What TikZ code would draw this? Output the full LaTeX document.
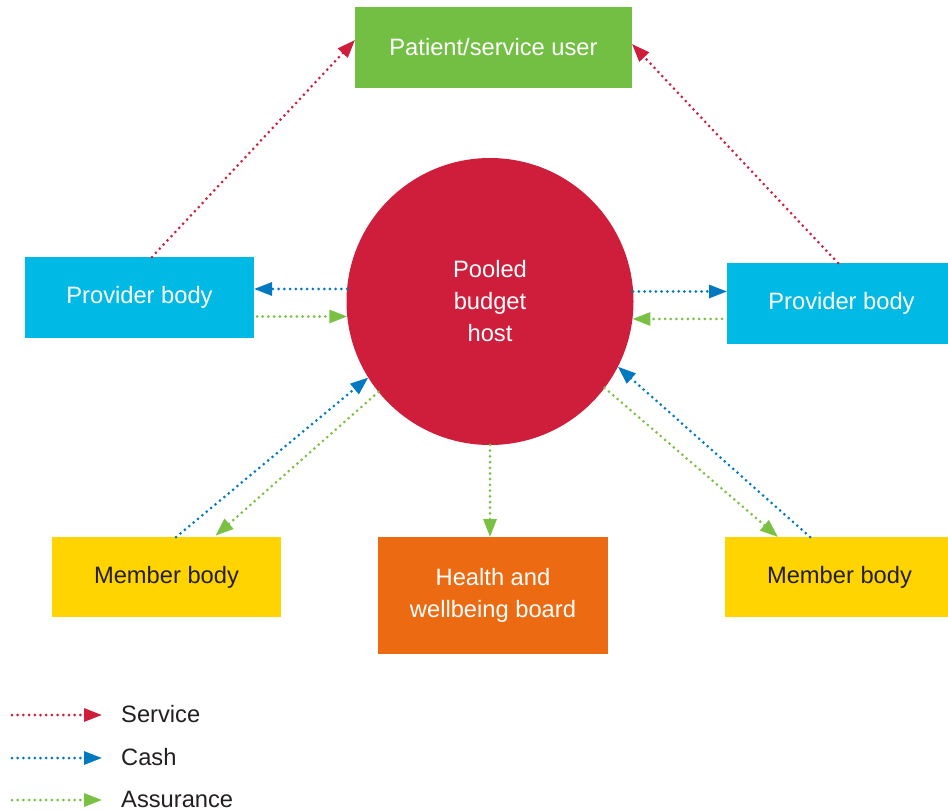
\documentclass[tikz,border=0pt]{standalone}
\usepackage{fontspec}
\setmainfont{Liberation Sans}
\usetikzlibrary{arrows.meta,calc}
\definecolor{cred}{HTML}{CE1E3B}
\definecolor{cpat}{HTML}{72BF44}
\definecolor{ccyan}{HTML}{00B9E4}
\definecolor{cyel}{HTML}{FFD400}
\definecolor{corange}{HTML}{EC6A12}
\definecolor{cblue}{HTML}{0079C1}
\definecolor{cgreen}{HTML}{7AC143}
\definecolor{cdark}{HTML}{231F20}
\begin{document}
\begin{tikzpicture}[x=1pt,y=-1pt,
  box/.style={rectangle, inner sep=0pt, outer sep=0pt, align=center,
    font=\fontsize{23.7}{32}\selectfont, text=white},
  legendtext/.style={inner sep=0pt, anchor=west, font=\fontsize{23.7}{32}\selectfont, text=cdark},
  flow/.style={line width=3pt, line cap=round, dash pattern=on 0pt off 5.7pt,
    -{Triangle[length=18pt,width=13pt]}}]
\useasboundingbox (0,0) rectangle (948,811);
\clip (0,0) rectangle (948,811);

\node[box, fill=cpat, minimum width=277pt, minimum height=81pt] (pat) at (493.5,47.5) {Patient/service user};
\node[circle, inner sep=0pt, outer sep=0pt, minimum size=287pt, fill=cred, text=white, align=center,
  font=\fontsize{23.7}{32}\selectfont] (circ) at (490,301.5) {Pooled\\budget\\host};
\node[box, fill=ccyan, minimum width=229pt, minimum height=81pt] (provL) at (139.5,297.5) {Provider body};
\node[box, fill=ccyan, minimum width=229pt, minimum height=81pt] (provR) at (841.5,303.5) {Provider body};
\node[box, fill=cyel, text=cdark, minimum width=229pt, minimum height=80pt] (memL) at (166.5,577) {Member body};
\node[box, fill=corange, minimum width=230pt, minimum height=117pt] (hwb) at (493,595.5) {Health and\\wellbeing board};
\node[box, fill=cyel, text=cdark, minimum width=229pt, minimum height=80pt] (memR) at (839.5,577) {Member body};

% service
\draw[flow, cred] ($(provL.north)+(12.5,0)$) -- ($(pat.west)+(0,-7.5)$);
\draw[flow, cred] ($(provR.north)+(-3.5,0)$) -- ($(pat.east)+(0,-3.5)$);
% providers
\draw[flow, cblue] (circ.175) -- (circ.175 -| provL.east);
\draw[flow, cgreen, shorten <=3pt] (circ.186 -| provL.east) -- (circ.186);
\draw[flow, cblue] (circ.4.2) -- (circ.4.2 -| provR.west);
\draw[flow, cgreen, shorten <=5pt] (circ.-7.4 -| provR.west) -- (circ.-7.4);
% members
\draw[flow, cblue] ($(memL.north)+(9.5,0)$) -- (circ.212);
\draw[flow, cgreen, shorten >=2pt] (circ.219) -- ($(memL.north)+(47.5,0)$);
\draw[flow, cblue] ($(memR.north)+(-29.5,0)$) -- (circ.-27.5);
\draw[flow, cgreen] (circ.-37) -- ($(memR.north)+(-61.5,0)$);
% board
\draw[flow, cgreen] (circ.south) -- (circ.south |- hwb.north);

% legend
\coordinate (l1a) at (12,715); \coordinate (l1b) at (102,715);
\coordinate (l2a) at (12,758); \coordinate (l2b) at (102,758);
\coordinate (l3a) at (12,800); \coordinate (l3b) at (102,800);
\draw[flow, cred] (l1a) -- (l1b);
\draw[flow, cblue] (l2a) -- (l2b);
\draw[flow, cgreen] (l3a) -- (l3b);
\node[legendtext] (t1) at (121,714) {Service};
\node[legendtext] (t2) at (121,757) {Cash};
\node[legendtext] (t3) at (121,799) {Assurance};
\end{tikzpicture}
\end{document}
